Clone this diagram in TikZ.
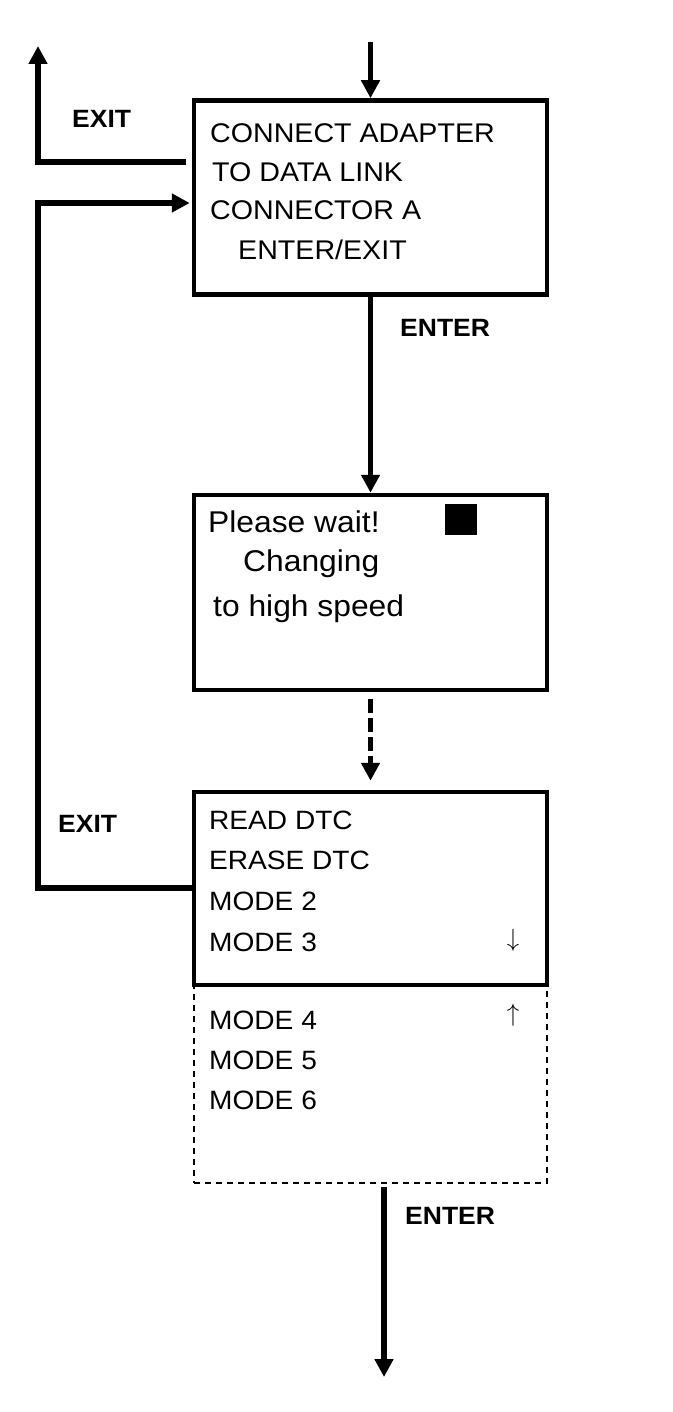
\documentclass[tikz,border=0pt]{standalone}
\usepackage{fontspec}
\setmainfont{Liberation Sans}[FakeStretch=1.06]
\usetikzlibrary{arrows.meta}
\begin{document}
\begin{tikzpicture}[x=1pt,y=-1pt,
  box/.style={draw, line width=4.5pt, inner sep=0pt, minimum width=353pt},
  dbox/.style={draw, dash pattern=on 6pt off 5pt, line width=1.6pt, inner sep=0pt, minimum width=353pt},
  conn/.style={line width=5.5pt},
  arr/.style={line width=5.5pt, -{Triangle[width=18pt,length=18pt]}},
  txta/.style={anchor=base west, inner sep=0pt, font=\fontsize{27}{32}\selectfont},
  txtb/.style={anchor=base west, inner sep=0pt, font=\fontsize{30}{36}\selectfont},
  txtc/.style={anchor=base west, inner sep=0pt, font=\fontsize{26.5}{32}\selectfont},
  lbl/.style={anchor=base west, inner sep=0pt, font=\fontsize{25}{30}\selectfont\bfseries},
  scroll/.style={inner sep=0pt, font=\fontsize{30}{30}\selectfont}]
\useasboundingbox (0,0) rectangle (672,1412);

% boxes
\node[dbox, minimum height=198pt] (b4) at (370.5,1084) {};
\node[box, minimum height=194pt] (b1) at (370.5,197.5) {};
\node[box, minimum height=195pt] (b2) at (370.5,492.5+100) {};
\node[box, minimum height=193pt] (b3) at (370.5,888.5) {};
\node[fill=black, inner sep=0pt, minimum width=32pt, minimum height=31pt] (sq) at (461,519.5) {};

% texts box 1
\node[txta] (t11) at (210,142.5) {CONNECT ADAPTER};
\node[txta] (t12) at (212,181.5) {TO DATA LINK};
\node[txta] (t13) at (210,219.5) {CONNECTOR A};
\node[txta] (t14) at (238,259.5) {ENTER/EXIT};

% texts box 2
\node[txtb] (t21) at (208,532) {Please wait!};
\node[txtb] (t22) at (243,571) {Changing};
\node[txtb] (t23) at (213,616) {to high speed};

% texts box 3 and list
\node[txtc] (t31) at (209,829.5) {READ DTC};
\node[txtc] (t32) at (209,869.5) {ERASE DTC};
\node[txtc] (t33) at (209,910.5) {MODE 2};
\node[txtc] (t34) at (209,951.5) {MODE 3};
\node[txtc] (t41) at (209,1029.5) {MODE 4};
\node[txtc] (t42) at (209,1069.5) {MODE 5};
\node[txtc] (t43) at (209,1109.5) {MODE 6};
\node[scroll] (dn) at (513,940) {$\downarrow$};
\node[scroll] (up) at (513,1015) {$\uparrow$};

% labels
\node[lbl] (exit1) at (72,128) {EXIT};
\node[lbl] (exit2) at (58,832) {EXIT};
\node[lbl] (enter1) at (400,336) {ENTER};
\node[lbl] (enter2) at (405,1224) {ENTER};

% coordinates
\coordinate (in) at (370.5,42);
\coordinate (exitrow) at (0,162);
\coordinate (exitup) at (38,46);
\coordinate (loopbot) at (38,888);
\coordinate (looptop) at (38,203);
\coordinate (out) at (384,1377);

% connectors
\draw[arr] (in) -- (b1.north);
\draw[arr] ([xshift=-6pt]b1.west |- exitrow) -| (exitup);
\draw[arr] (b3.west |- loopbot) -- (loopbot) -- (looptop) -- ([xshift=-2pt]b1.west |- looptop);
\draw[arr] (b1.south) -- (b2.north);
\draw[arr, dash pattern=on 14pt off 5pt, shorten <=7pt, shorten >=9pt] (b2.south) -- (b3.north);
\draw[arr, shorten <=3pt] (b4.south -| out) -- (out);
\end{tikzpicture}
\end{document}
